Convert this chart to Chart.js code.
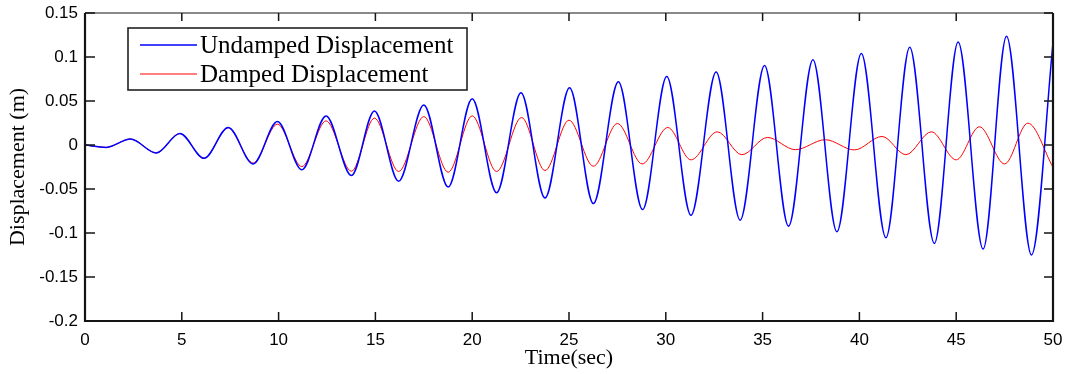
<!DOCTYPE html>
<html>
<head>
<meta charset="utf-8">
<script src="https://cdn.jsdelivr.net/npm/chart.js@4.4.1/dist/chart.umd.min.js"></script>
<style>
  html, body { margin: 0; padding: 0; background: #fff; }
  #wrap { position: relative; width: 1067px; height: 374px; }
</style>
</head>
<body>
<div id="wrap"><canvas id="myChart" width="1067" height="374"></canvas></div>
<script>
// peaks and troughs of each response, time in seconds, displacement in metres
const undampedTime = [0, 1.1, 2.35, 3.68, 4.9, 6.15, 7.4, 8.68, 9.94, 11.2, 12.45, 13.76, 14.95, 16.2,
  17.5, 18.76, 20.0, 21.26, 22.52, 23.76, 25.03, 26.26, 27.55, 28.8, 30.05, 31.3, 32.6, 33.84,
  35.1, 36.34, 37.6, 38.84, 40.1, 41.37, 42.6, 43.87, 45.1, 46.39, 47.6, 48.89, 50];
const undampedDisp = [0, -0.0027, 0.0068, -0.009, 0.0131, -0.0151, 0.0199, -0.0215, 0.0267, -0.0282,
  0.033, -0.0347, 0.0387, -0.0411, 0.0455, -0.0478, 0.0526, -0.0542, 0.0594, -0.0603, 0.065,
  -0.0666, 0.0718, -0.0734, 0.0779, -0.0798, 0.083, -0.0854, 0.0903, -0.0922, 0.097, -0.0986,
  0.1039, -0.1054, 0.111, -0.1118, 0.117, -0.1182, 0.1237, -0.125, 0.1158];

const dampedTime = [0, 1.1, 2.35, 3.68, 4.9, 6.15, 7.4, 8.68, 9.94, 11.2, 12.45, 13.76, 14.95, 16.2,
  17.5, 18.76, 20.0, 21.26, 22.55, 23.76, 25.0, 26.26, 27.5, 28.78, 30.1, 31.3, 32.66, 33.93,
  35.25, 36.69, 38.24, 39.74, 41.17, 42.4, 43.72, 45.0, 46.2, 47.5, 48.7, 50];
const dampedDisp = [0, -0.0027, 0.0068, -0.009, 0.013, -0.015, 0.0195, -0.0205, 0.0237, -0.0245,
  0.0274, -0.0298, 0.0305, -0.0301, 0.0323, -0.0309, 0.0331, -0.0301, 0.0312, -0.029, 0.0282,
  -0.0241, 0.0244, -0.0215, 0.0199, -0.0169, 0.015, -0.011, 0.0086, -0.0053, 0.006, -0.0056,
  0.0097, -0.011, 0.015, -0.0169, 0.0207, -0.0215, 0.0248, -0.0253];

const seriesNames = ['Undamped Displacement', 'Damped Displacement'];
const seriesColors = ['#0000ff', '#ff0000'];

const toPoints = (ts, ys) => ts.map((t, i) => ({ x: t, y: ys[i] }));

const serif = 'Liberation Serif, Times New Roman, serif';
const sans = 'Liberation Sans, Arial, sans-serif';

// matlab style box: inward ticks on all four sides
const boxAxes = {
  id: 'boxAxes',
  afterDatasetsDraw(chart) {
    const { ctx, chartArea: a, scales: { x, y } } = chart;
    ctx.save();
    ctx.strokeStyle = '#141414';
    ctx.lineWidth = 1.5;
    ctx.beginPath();
    x.ticks.forEach(t => {
      const px = x.getPixelForValue(t.value);
      ctx.moveTo(px, a.bottom); ctx.lineTo(px, a.bottom - 9);
      ctx.moveTo(px, a.top); ctx.lineTo(px, a.top + 8);
    });
    y.ticks.forEach(t => {
      const py = y.getPixelForValue(t.value);
      ctx.moveTo(a.left, py); ctx.lineTo(a.left + 10, py);
      ctx.moveTo(a.right, py); ctx.lineTo(a.right - 9, py);
    });
    ctx.stroke();

    ctx.lineWidth = 1.2;
    ctx.beginPath();
    ctx.moveTo(a.left, a.top); ctx.lineTo(a.right, a.top);
    ctx.stroke();
    ctx.lineWidth = 2.2;
    ctx.beginPath();
    ctx.moveTo(a.left, a.top); ctx.lineTo(a.left, a.bottom);
    ctx.lineTo(a.right, a.bottom); ctx.lineTo(a.right, a.top);
    ctx.stroke();
    ctx.restore();
  }
};

// boxed legend in the upper left of the axes
const boxLegend = {
  id: 'boxLegend',
  afterDraw(chart) {
    const { ctx, chartArea: a } = chart;
    const left = a.left + 43, top = a.top + 15, w = 339, h = 62;
    ctx.save();
    ctx.fillStyle = '#fff';
    ctx.fillRect(left, top, w, h);
    ctx.strokeStyle = '#222';
    ctx.lineWidth = 1.6;
    ctx.strokeRect(left, top, w, h);
    chart.data.datasets.forEach((ds, i) => {
      const ly = top + 17 + i * 29;
      ctx.strokeStyle = ds.borderColor;
      ctx.lineWidth = ds.borderWidth;
      ctx.beginPath();
      ctx.moveTo(left + 12, ly); ctx.lineTo(left + 69, ly);
      ctx.stroke();
      ctx.fillStyle = '#000';
      ctx.font = '25px ' + serif;
      ctx.textBaseline = 'middle';
      ctx.fillText(ds.label, left + 72, ly + 1);
    });
    ctx.restore();
  }
};

// fixed axis box so the plot area sits at the same place every time
const noScalePad = s => { s.paddingTop = 0; s.paddingBottom = 0; s.paddingLeft = 0; s.paddingRight = 0; };

const ctx = document.getElementById('myChart').getContext('2d');
let myChart = new Chart(ctx, {
  type: 'line',
  data: {
    datasets: [
      {
        label: seriesNames[0],
        data: toPoints(undampedTime, undampedDisp),
        borderColor: seriesColors[0],
        borderWidth: 1.5,
        pointRadius: 0,
        cubicInterpolationMode: 'monotone'
      },
      {
        label: seriesNames[1],
        data: toPoints(dampedTime, dampedDisp),
        borderColor: seriesColors[1],
        borderWidth: 1,
        pointRadius: 0,
        cubicInterpolationMode: 'monotone'
      }
    ]
  },
  options: {
    responsive: false,
    animation: false,
    events: [],
    layout: { padding: { left: 0, top: 13, right: 14, bottom: 0 } },
    plugins: { legend: { display: false }, tooltip: { enabled: false } },
    scales: {
      x: {
        type: 'linear',
        min: 0, max: 50,
        grid: { display: false, drawTicks: false },
        border: { display: false },
        ticks: { stepSize: 5, padding: 9, color: '#000', font: { family: sans, size: 17 }, maxRotation: 0 },
        title: { display: true, text: 'Time(sec)', color: '#000', font: { family: serif, size: 22 }, padding: { top: 0, bottom: 3 } },
        afterFit: s => { s.height = 53; noScalePad(s); }
      },
      y: {
        min: -0.2, max: 0.15,
        grid: { display: false, drawTicks: false },
        border: { display: false },
        ticks: {
          stepSize: 0.05, padding: 7, color: '#000', font: { family: sans, size: 17 },
          callback: v => String(parseFloat(v.toFixed(2)))
        },
        title: { display: true, text: 'Displacement (m)', color: '#000', font: { family: serif, size: 22 }, padding: { top: 5, bottom: 0 } },
        afterFit: s => { s.width = 85; noScalePad(s); }
      }
    }
  },
  plugins: [boxAxes, boxLegend]
});
</script>
</body>
</html>
